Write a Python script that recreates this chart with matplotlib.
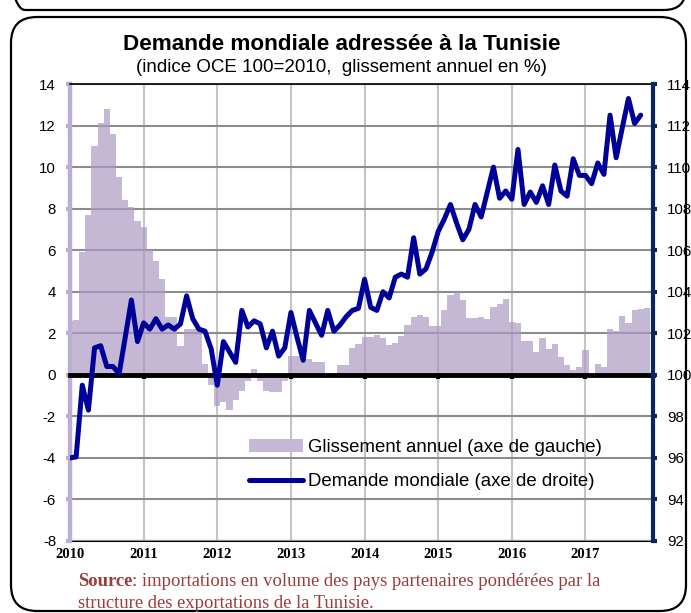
import matplotlib
matplotlib.use('Agg')
import matplotlib.pyplot as plt
from matplotlib.patches import FancyBboxPatch, Patch
from matplotlib.lines import Line2D
from matplotlib.transforms import IdentityTransform
import numpy as np

plt.rcParams['font.family'] = ['Liberation Sans', 'DejaVu Sans']
plt.rcParams['axes.unicode_minus'] = False

# ---------------- data ----------------
years = ['2010', '2011', '2012', '2013', '2014', '2015', '2016', '2017']
year_months = [0, 12, 24, 36, 48, 60, 72, 84]   # month index of January of each year (Jan 2010 = 0)

# Glissement annuel (%), monthly, from Jan 2010 (left axis)
glissement = [
    2.6, 2.65, 5.9, 7.7, 11.0, 12.1, 12.8, 11.6, 9.5, 8.4, 8.1, 7.4,          # 2010
    7.1, 6.0, 5.5, 4.6, 2.8, 2.8, 1.4, 2.2, 2.2, 2.2, 0.5, -0.5,              # 2011
    -1.5, -1.3, -1.7, -1.2, -0.8, -0.3, 0.3, -0.3, -0.8, -0.85, -0.85, -0.3,  # 2012
    0.9, 0.9, 0.8, 0.75, 0.6, 0.6, 0.0, 0.0, 0.45, 0.45, 1.3, 1.5,            # 2013
    1.8, 1.8, 1.9, 1.75, 1.45, 1.55, 1.85, 2.4, 2.8, 2.9, 2.8, 2.35,          # 2014
    2.35, 3.1, 3.85, 4.0, 3.6, 2.75, 2.75, 2.8, 2.7, 3.25, 3.4, 3.65,         # 2015
    2.55, 2.5, 1.65, 1.65, 1.1, 1.75, 1.25, 1.5, 0.85, 0.45, 0.25, 0.4,       # 2016
    1.2, 0.0, 0.5, 0.4, 2.2, 2.1, 2.85, 2.5, 3.1, 3.15, 3.2,                  # 2017
]

# Demande mondiale (indice OCE 100=2010), monthly, from Jan 2010 (right axis)
demande = [
    96.0, 96.05, 99.5, 98.3, 101.3, 101.4, 100.4, 100.4, 100.05, 101.8, 103.6, 101.6,
    102.5, 102.2, 102.7, 102.2, 102.4, 102.2, 102.45, 103.8, 102.7, 102.2, 102.1, 101.25,
    99.5, 101.6, 101.1, 100.6, 103.1, 102.3, 102.6, 102.45, 101.3, 102.1, 100.9, 101.3,
    103.0, 101.8, 100.7, 103.1, 102.5, 101.9, 103.1, 102.1, 102.4, 102.8, 103.1, 103.2,
    104.6, 103.25, 103.1, 104.0, 103.7, 104.7, 104.85, 104.7, 106.6, 104.85, 105.1, 105.9,
    106.9, 107.5, 108.2, 107.3, 106.5, 107.0, 108.2, 107.6, 108.8, 110.0, 108.5, 108.85,
    108.45, 110.85, 108.2, 108.8, 108.3, 109.1, 108.2, 110.1, 108.85, 108.6, 110.4, 109.6,
    109.6, 109.2, 110.2, 109.65, 112.5, 110.45, 111.9, 113.3, 112.1, 112.5,
]

left_ticks = list(range(-8, 15, 2))
right_ticks = list(range(92, 115, 2))

title = 'Demande mondiale adressée à la Tunisie'
subtitle = '(indice OCE 100=2010,  glissement annuel en %)'
label_bars = 'Glissement annuel (axe de gauche)'
label_line = 'Demande mondiale (axe de droite)'
source_bold = 'Source'
source_rest = ': importations en volume des pays partenaires pondérées par la'
source_line2 = 'structure des exportations de la Tunisie.'

# ---------------- style ----------------
W, H = 691, 613
bar_color = '#AB9AC4'
bar_alpha = 0.7
legend_bar_color = '#C4B8D6'
left_axis_color = '#BBAED3'
line_color = '#000099'
right_axis_color = '#0B2561'
source_color = '#9C3B3B'

fig = plt.figure(figsize=(W / 100, H / 100), dpi=100)
ax = fig.add_axes([70 / W, (H - 541) / H, 583 / W, 457 / H])

x_bars = np.arange(len(glissement))
ax.bar(x_bars, glissement, width=1.0, color=bar_color, alpha=bar_alpha,
       linewidth=0, antialiased=False, zorder=2)

ax.set_xlim(0, 95)
ax.set_ylim(-8, 14)
ax.set_yticks(left_ticks)
ax.set_axisbelow(True)
ax.grid(axis='y', color='#8C8C8C', lw=1.5)
ax.grid(axis='x', color='#C4C4C4', lw=1.5)

# zero line as x axis
ax.spines['bottom'].set_position(('data', 0))
ax.spines['bottom'].set_linewidth(3.5)
ax.spines['bottom'].set_color('black')
ax.set_xticks(year_months)
ax.tick_params(axis='x', direction='out', length=3, width=3, color='black',
               labelbottom=False)
ax.spines['right'].set_visible(False)
ax.spines['top'].set_linewidth(1.2)
ax.spines['top'].set_color('black')
ax.spines['left'].set_color(left_axis_color)
ax.spines['left'].set_linewidth(3.2)
ax.tick_params(axis='y', direction='out', length=3, width=3, color=left_axis_color,
               labelsize=10.8, pad=7)

# year labels at the bottom
sec = ax.secondary_xaxis('bottom')
sec.set_xticks(year_months)
sec.set_xticklabels(years, fontfamily='Liberation Serif', fontweight='bold',
                    fontsize=10.5)
sec.tick_params(axis='x', length=0, pad=5)
sec.spines['bottom'].set_linewidth(1.5)

# right axis, line
ax2 = ax.twinx()
ax2.set_ylim(92, 114)
ax2.set_yticks(right_ticks)
x_line = np.arange(len(demande))
ax2.plot(x_line, demande, color=line_color, lw=3.6, solid_joinstyle='round',
         solid_capstyle='round', zorder=3)
for s in ['left', 'top', 'bottom']:
    ax2.spines[s].set_visible(False)
ax2.spines['right'].set_color(right_axis_color)
ax2.spines['right'].set_linewidth(3)
ax2.tick_params(axis='y', direction='out', length=3, width=3, color=right_axis_color,
                labelsize=10.8, pad=7)

handles = [Patch(facecolor=legend_bar_color, edgecolor='none'),
           Line2D([], [], color=line_color, lw=3.6, solid_capstyle='round')]
ax2.legend(handles, [label_bars, label_line], loc='upper left',
           bbox_to_anchor=(249 / W, 1 - 439 / H), bbox_transform=fig.transFigure,
           frameon=False, fontsize=13.4, handlelength=2.9, handletextpad=0.25,
           labelspacing=0.92, borderpad=0, borderaxespad=0)

# titles
fig.text(341.5 / W, 1 - 45 / H, title, ha='center', va='center',
         fontsize=16.2, fontweight='bold')
fig.text(341 / W, 1 - 67 / H, subtitle, ha='center', va='center', fontsize=13.5)

# source
t1 = fig.text(78 / W, 1 - 586 / H, source_bold, fontfamily='Liberation Serif',
              fontweight='bold', fontsize=13.4, color=source_color, va='baseline')
fig.canvas.draw()
bb = t1.get_window_extent()
fig.text(bb.x1 / W, 1 - 586 / H, source_rest, fontfamily='Liberation Serif',
         fontsize=13.4, color=source_color, va='baseline')
fig.text(78 / W, 1 - 608 / H, source_line2, fontfamily='Liberation Serif',
         fontsize=13.4, color=source_color, va='baseline')

# rounded frames
outer = FancyBboxPatch((11, H - 611), 686 - 11, 611 - 17,
                       boxstyle='round,pad=0,rounding_size=26',
                       transform=IdentityTransform(), fill=False, lw=1.6,
                       edgecolor='black')
fig.add_artist(outer)
top = FancyBboxPatch((3, H - 10), 686 - 3, 200,
                     boxstyle='round,pad=0,rounding_size=22',
                     transform=IdentityTransform(), fill=False, lw=1.6,
                     edgecolor='black')
fig.add_artist(top)

fig.savefig('out.png', dpi=100)
